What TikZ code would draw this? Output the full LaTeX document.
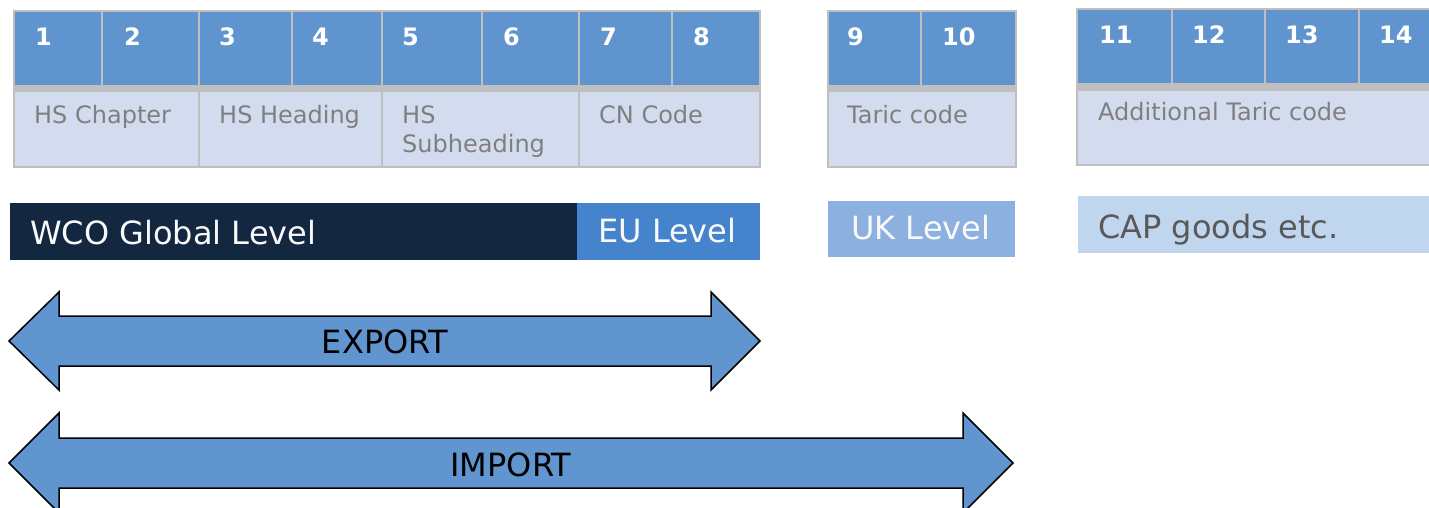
\documentclass[tikz,border=0pt]{standalone}
\usepackage{fontspec}
\setmainfont{DejaVu Sans}
\definecolor{cellblue}{HTML}{5F94CF}
\definecolor{celllight}{HTML}{D3DCEE}
\definecolor{gridgrey}{HTML}{BFBFBF}
\definecolor{navy}{HTML}{132840}
\definecolor{eublue}{HTML}{4584CC}
\definecolor{ukblue}{HTML}{8CB1E0}
\definecolor{capblue}{HTML}{C0D6EF}
\definecolor{labelgrey}{HTML}{7F7F7F}
\definecolor{capgrey}{HTML}{595959}
\definecolor{arrowblue}{HTML}{6195CF}
\begin{document}
\begin{tikzpicture}[x=1pt,y=-1pt,
  num/.style={anchor=base west,inner sep=0pt,text=white,font=\fontsize{24}{28}\selectfont\bfseries},
  lbl/.style={anchor=base west,inner sep=0pt,text=labelgrey,font=\fontsize{24}{28}\selectfont},
  lvl/.style={anchor=base west,inner sep=0pt,font=\fontsize{32}{38}\selectfont},
  grid/.style={draw=gridgrey,line width=2.5pt},
  bigarrow/.style={fill=arrowblue,draw=black,line width=1.5pt,line join=miter},
  arrowtext/.style={anchor=base,inner sep=0pt,text=black,font=\fontsize{32}{38}\selectfont}]
\useasboundingbox (0,0) rectangle (1429,507);
\clip (0,0) rectangle (1429,507);
% ---------- table 1 ----------
\fill[cellblue] (14,11) rectangle (760,85);
\fill[gridgrey] (14,85) rectangle (760,92);
\fill[celllight] (14,92) rectangle (760,167);
\foreach \x in {102,199,292,382,482,579,672} \draw[grid] (\x,11) -- (\x,85);
\foreach \x in {199,382,579} \draw[grid] (\x,92) -- (\x,167);
\draw[grid] (14,11) rectangle (760,167);
\node[num] (n1) at (35,45) {1};
\node[num] (n2) at (124,45) {2};
\node[num] (n3) at (219,45) {3};
\node[num] (n4) at (312,45) {4};
\node[num] (n5) at (402,45) {5};
\node[num] (n6) at (503,45) {6};
\node[num] (n7) at (600,45) {7};
\node[num] (n8) at (693,45) {8};
\node[lbl] (chap) at (34,123) {HS Chapter};
\node[lbl] (head) at (219,123) {HS Heading};
\node[lbl] (sub1) at (402,123) {HS};
\node[lbl] (sub2) at (402,152) {Subheading};
\node[lbl] (cn) at (599,123) {CN Code};
% ---------- table 2 ----------
\fill[cellblue] (828,11) rectangle (1016,85);
\fill[gridgrey] (828,85) rectangle (1016,92);
\fill[celllight] (828,92) rectangle (1016,167);
\draw[grid] (921,11) -- (921,85);
\draw[grid] (828,11) rectangle (1016,167);
\node[num] (n9) at (847,45) {9};
\node[num] (n10) at (942,45) {10};
\node[lbl] (taric) at (847,123) {Taric code};
% ---------- table 3 ----------
\fill[cellblue] (1077,9) rectangle (1440,83);
\fill[gridgrey] (1077,83) rectangle (1440,91);
\fill[celllight] (1077,91) rectangle (1440,165);
\foreach \x in {1172,1265,1359} \draw[grid] (\x,9) -- (\x,83);
\draw[grid] (1077,9) rectangle (1445,165);
\node[num] (n11) at (1099,43) {11};
\node[num] (n12) at (1192,43) {12};
\node[num] (n13) at (1285,43) {13};
\node[num] (n14) at (1379,43) {14};
\node[lbl] (addtaric) at (1098,120) {Additional Taric code};
% ---------- level bars ----------
\fill[navy] (10,203) rectangle (577,260);
\fill[eublue] (577,203) rectangle (760,260);
\fill[ukblue] (828,201) rectangle (1015,257);
\fill[capblue] (1078,196) rectangle (1440,253);
\node[lvl,text=white!95!gray] (wco) at (30,244) {WCO Global Level};
\node[lvl,text=white!95!gray] (eu) at (598,242) {EU Level};
\node[lvl,text=white!95!gray] (uk) at (851,239) {UK Level};
\node[lvl,text=capgrey] (cap) at (1098,238) {CAP goods etc.};
% ---------- arrows ----------
\draw[bigarrow] (9,341) -- (59,292) -- (59,316) -- (711,316) -- (711,292) -- (760,341)
  -- (711,390) -- (711,366) -- (59,366) -- (59,390) -- cycle;
\node[arrowtext] (export) at (385,353) {EXPORT};
\draw[bigarrow] (9,463) -- (59,413) -- (59,438) -- (963,438) -- (963,413) -- (1013,463)
  -- (963,513) -- (963,488) -- (59,488) -- (59,513) -- cycle;
\node[arrowtext] (import) at (511,476) {IMPORT};
\end{tikzpicture}
\end{document}
